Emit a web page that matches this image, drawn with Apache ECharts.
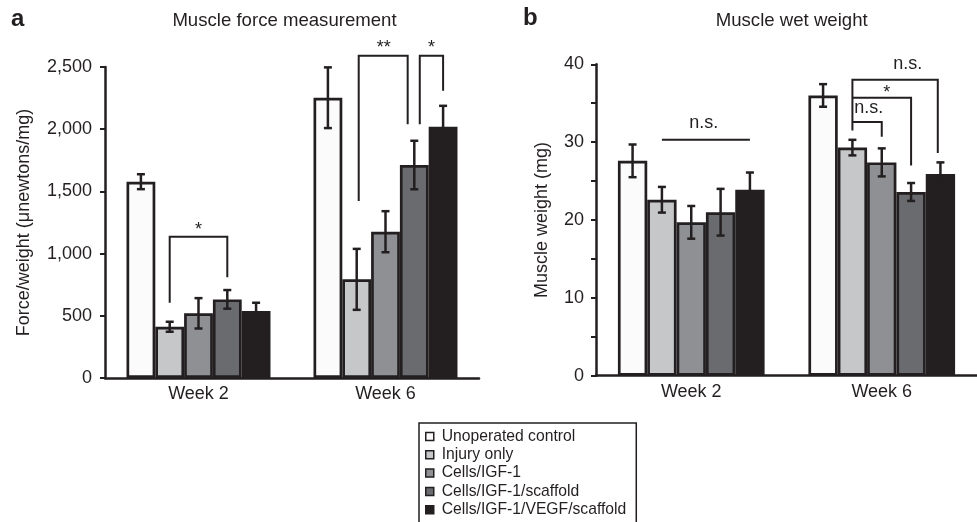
<!DOCTYPE html>
<html>
<head>
<meta charset="utf-8">
<script src="https://cdn.jsdelivr.net/npm/echarts@6/dist/echarts.min.js"></script>
<style>html,body{margin:0;padding:0;background:#fff;}#c{width:977px;height:522px;}</style>
</head>
<body>
<div id="c"></div>
<script>
// ---------- data ----------
const categories = ['Week 2', 'Week 6'];
const seriesNames = ['Unoperated control', 'Injury only', 'Cells/IGF-1', 'Cells/IGF-1/scaffold', 'Cells/IGF-1/VEGF/scaffold'];

// Panel a: force/weight (µN/mg), per group [Week 2, Week 6]
const forceControl = [1578, 2253];
const forceInjury = [412, 793];
const forceIGF = [520, 1176];
const forceScaffold = [632, 1712];
const forceVEGF = [538, 2020];
const forceErrControl = [60, 244];
const forceErrInjury = [40, 245];
const forceErrIGF = [122, 165];
const forceErrScaffold = [75, 195];
const forceErrVEGF = [67, 168];
const forceTicks = [0, 500, 1000, 1500, 2000, 2500];

// Panel b: muscle wet weight (mg)
const weightControl = [27.6, 36.0];
const weightInjury = [22.6, 29.3];
const weightIGF = [19.7, 27.4];
const weightScaffold = [21.0, 23.6];
const weightVEGF = [23.9, 25.9];
const weightErrControl = [2.1, 1.45];
const weightErrInjury = [1.65, 1.0];
const weightErrIGF = [2.1, 1.8];
const weightErrScaffold = [3.0, 1.15];
const weightErrVEGF = [2.2, 1.5];
const weightTicks = [0, 10, 20, 30, 40];

// significance brackets: [group, fromBar, toBar, topValue, leftEndValue, rightEndValue]
const forceBrackets = [
  [0, 1, 3, 1136, 605, 809],
  [1, 1.07, 2.77, 2591, 1423, 2039],
  [1, 3.19, 4, 2591, 2039, 2310]
];
// labels: [group, barPosition, value, text]
const forceLabels = [
  [0, 2.0, 1190, '*'],
  [1, 1.94, 2650, '**'],
  [1, 3.6, 2650, '*']
];
const weightBrackets = [
  [0, 1, 4, 30.3, 30.3, 30.3],
  [1, 1, 3.91, 38.0, 31.5, 28.6],
  [1, 1, 3, 35.7, 35.7, 27.0],
  [1, 1, 2, 32.6, 32.6, 30.7]
];
const weightLabels = [
  [0, 2.43, 32.5, 'n.s.'],
  [1, 2.89, 40.0, 'n.s.'],
  [1, 2.17, 36.3, '*'],
  [1, 1.56, 34.4, 'n.s.']
];

// ---------- styling ----------
const ink = '#231f20';
const font = "'Liberation Sans', Arial, sans-serif";
const barColors = ['#fbfbfb', '#c6c7c9', '#8e9093', '#6a6b6f', '#231f20'];
const catGap = 0.23;

const forceValues = [forceControl, forceInjury, forceIGF, forceScaffold, forceVEGF];
const forceErrors = [forceErrControl, forceErrInjury, forceErrIGF, forceErrScaffold, forceErrVEGF];
const weightValues = [weightControl, weightInjury, weightIGF, weightScaffold, weightVEGF];
const weightErrors = [weightErrControl, weightErrInjury, weightErrIGF, weightErrScaffold, weightErrVEGF];

function barCenter(api, group, pos) {
  const bw = api.size([1, 0])[0];
  const barW = bw * (1 - catGap) / 5;
  return api.coord([group, 0])[0] + (pos - 2) * barW;
}

function errorSeries(axisIdx, values, errors) {
  const data = [];
  for (let s = 0; s < values.length; s++) {
    for (let c = 0; c < categories.length; c++) {
      data.push([c, s, values[s][c], errors[s][c]]);
    }
  }
  return {
    type: 'custom', xAxisIndex: axisIdx, yAxisIndex: axisIdx, z: 5, clip: false, silent: true,
    encode: { x: 0, y: 2 },
    data: data,
    renderItem: function (params, api) {
      const c = api.value(0), s = api.value(1), v = api.value(2), e = api.value(3);
      const x = barCenter(api, c, s);
      const yT = api.coord([c, v + e])[1];
      const yB = api.coord([c, v - e])[1];
      const st = { stroke: ink, lineWidth: 2.5 };
      const h = 4;
      return { type: 'group', children: [
        { type: 'line', shape: { x1: x, y1: yT, x2: x, y2: yB }, style: st },
        { type: 'line', shape: { x1: x - h, y1: yT, x2: x + h, y2: yT }, style: st },
        { type: 'line', shape: { x1: x - h, y1: yB, x2: x + h, y2: yB }, style: st }
      ] };
    }
  };
}

function bracketSeries(axisIdx, brackets) {
  return {
    type: 'custom', xAxisIndex: axisIdx, yAxisIndex: axisIdx, z: 6, clip: false, silent: true,
    data: brackets.map(b => [b[0], b[3]]),
    renderItem: function (params, api) {
      const b = brackets[params.dataIndex];
      const x1 = barCenter(api, b[0], b[1]);
      const x2 = barCenter(api, b[0], b[2]);
      const yT = api.coord([b[0], b[3]])[1];
      const yL = api.coord([b[0], b[4]])[1];
      const yR = api.coord([b[0], b[5]])[1];
      return { type: 'polyline', shape: { points: [[x1, yL], [x1, yT], [x2, yT], [x2, yR]] },
        style: { fill: null, stroke: ink, lineWidth: 2 } };
    }
  };
}

function labelSeries(axisIdx, labels) {
  return {
    type: 'custom', xAxisIndex: axisIdx, yAxisIndex: axisIdx, z: 6, clip: false, silent: true,
    data: labels.map(l => [l[0], l[2]]),
    renderItem: function (params, api) {
      const l = labels[params.dataIndex];
      const x = barCenter(api, l[0], l[1]);
      const y = api.coord([l[0], l[2]])[1];
      return { type: 'text', x: x, y: y,
        style: { text: l[3], fill: ink, fontSize: 18, fontFamily: font, align: 'center', verticalAlign: 'middle' } };
    }
  };
}

function barSeries(axisIdx, values) {
  return values.map((vals, i) => ({
    type: 'bar', name: seriesNames[i], xAxisIndex: axisIdx, yAxisIndex: axisIdx,
    data: vals, barGap: '0%', barCategoryGap: (catGap * 100) + '%',
    itemStyle: { color: barColors[i], borderColor: ink, borderWidth: 2.7 },
    emphasis: { disabled: true }
  }));
}

const xAxisBase = {
  type: 'category', data: categories,
  axisLine: { lineStyle: { color: ink, width: 2.5 } },
  axisTick: { show: false },
  axisLabel: { color: ink, fontSize: 18, fontFamily: font, margin: 7 }
};

const option = {
  animation: false,
  backgroundColor: '#ffffff',
  textStyle: { fontFamily: font },
  graphic: [
    { type: 'text', x: 11, y: 19, style: { text: 'a', fill: ink, fontSize: 24, fontWeight: 'bold', fontFamily: font, align: 'left', verticalAlign: 'middle' } },
    { type: 'text', x: 523, y: 18, style: { text: 'b', fill: ink, fontSize: 24, fontWeight: 'bold', fontFamily: font, align: 'left', verticalAlign: 'middle' } },
    { type: 'text', x: 284.5, y: 21, style: { text: 'Muscle force measurement', fill: ink, fontSize: 18.6, fontFamily: font, align: 'center', verticalAlign: 'middle' } },
    { type: 'text', x: 791.7, y: 21, style: { text: 'Muscle wet weight', fill: ink, fontSize: 18.6, fontFamily: font, align: 'center', verticalAlign: 'middle' } }
  ],
  legend: {
    data: seriesNames, orient: 'vertical', left: 419, top: 423, height: 140,
    padding: [5.5, 10, 8, 6], itemGap: 2.3, itemWidth: 8, itemHeight: 8, icon: 'rect',
    borderColor: ink, borderWidth: 1.5,
    itemStyle: { borderColor: ink, borderWidth: 1.5 },
    textStyle: { color: ink, fontSize: 15.7, fontFamily: font, padding: [0, 0, 0, 3] },
    selectedMode: false
  },
  grid: [
    { left: 105, top: 67, width: 374, height: 311 },
    { left: 596, top: 64.3, width: 392, height: 311.4 }
  ],
  xAxis: [
    Object.assign({ gridIndex: 0 }, xAxisBase),
    Object.assign({ gridIndex: 1 }, xAxisBase)
  ],
  yAxis: [
    {
      type: 'value', gridIndex: 0, min: forceTicks[0], max: forceTicks[forceTicks.length - 1], interval: forceTicks[1] - forceTicks[0],
      name: 'Force/weight (\u03bcnewtons/mg)', nameLocation: 'middle', nameGap: 72,
      nameTextStyle: { color: ink, fontSize: 18, fontFamily: font },
      axisLine: { show: true, lineStyle: { color: ink, width: 2.5 } },
      axisTick: { show: true, length: 5, lineStyle: { color: ink, width: 2 } },
      axisLabel: { color: ink, fontSize: 18, fontFamily: font, margin: 13,
        formatter: v => v.toLocaleString('en-US') },
      splitLine: { show: false }
    },
    {
      type: 'value', gridIndex: 1, min: weightTicks[0], max: weightTicks[weightTicks.length - 1], interval: 5,
      name: 'Muscle weight (mg)', nameLocation: 'middle', nameGap: 45,
      nameTextStyle: { color: ink, fontSize: 18, fontFamily: font },
      axisLine: { show: true, lineStyle: { color: ink, width: 2.5 } },
      axisTick: { show: true, length: 5, lineStyle: { color: ink, width: 2 } },
      axisLabel: { color: ink, fontSize: 18, fontFamily: font, margin: 12,
        formatter: v => (weightTicks.indexOf(v) >= 0 ? String(v) : '') },
      splitLine: { show: false }
    }
  ],
  series: [].concat(
    barSeries(0, forceValues),
    barSeries(1, weightValues),
    [errorSeries(0, forceValues, forceErrors), errorSeries(1, weightValues, weightErrors),
     bracketSeries(0, forceBrackets), bracketSeries(1, weightBrackets),
     labelSeries(0, forceLabels), labelSeries(1, weightLabels)]
  )
};

const chart = echarts.init(document.getElementById('c'), null, { renderer: 'canvas' });
chart.setOption(option);
</script>
</body>
</html>
